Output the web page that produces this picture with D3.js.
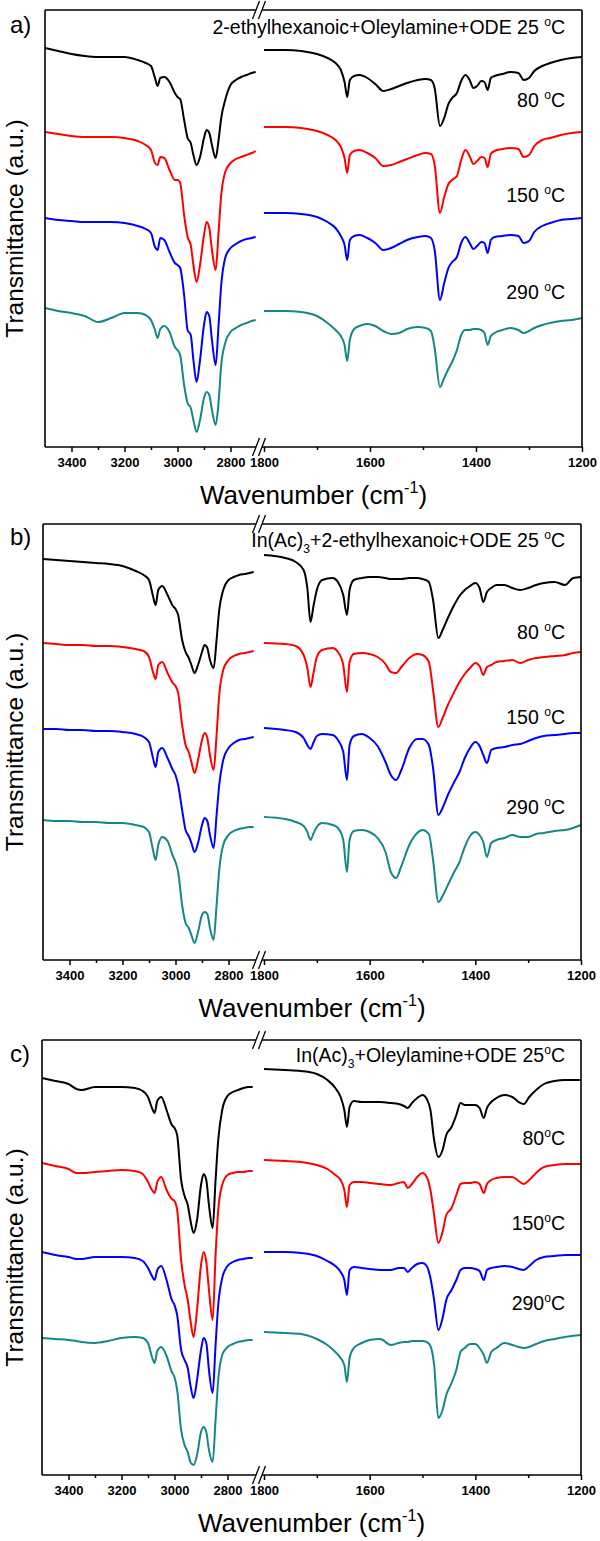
<!DOCTYPE html>
<html><head><meta charset="utf-8">
<script src="https://cdn.jsdelivr.net/npm/d3@7"></script>
<style>body{margin:0;background:#fff}svg text{font-family:"Liberation Sans",Arial,sans-serif;fill:#000}</style>
</head><body>
<svg id="chart" width="600" height="1541"></svg>
<script>
// ---------- tick labels ----------
const leftMajorTicks = [3400, 3200, 3000, 2800];
const leftMinorTicks = [3300, 3100, 2900];
const rightMajorTicks = [1800, 1600, 1400, 1200];
const rightMinorTicks = [1700, 1500, 1300];
const seriesNames = ["25 °C", "80 °C", "150 °C", "290 °C"];
const seriesColors = ["#000000", "#ff0000", "#0000ff", "#178686"];

// ---------- panel a ----------
const wnLeftAB = [3500,3450,3400,3350,3300,3250,3200,3150,3120,3100,3085,3075,3065,3050,3030,3010,3000,2990,2975,2962,2950,2940,2928,2915,2900,2890,2880,2870,2856,2845,2835,2820,2800,2780,2760,2740,2720,2705];
const wnRightA = [1800,1760,1730,1700,1680,1665,1655,1648,1643,1638,1630,1620,1605,1590,1575,1560,1545,1530,1510,1495,1485,1478,1468,1460,1452,1445,1436,1428,1420,1412,1405,1398,1390,1384,1378,1372,1365,1350,1335,1320,1310,1300,1290,1275,1260,1240,1220,1200];
const aLeft25  = [399,396,393,391,390,390,390,387,384,381,369,361,369,370,365,354,350,348,327,309,304,292,282,290,309,317,314,302,289,307,329,347,362,367,370,372,374,375];
const aLeft80  = [315,313,311,310,310,310,309,306,302,297,284,282,290,289,277,267,267,264,232,210,202,182,165,182,212,225,219,197,177,215,252,275,284,288,290,292,294,296];
const aLeft150 = [229,227,226,225,225,225,224,221,218,214,200,197,209,207,195,184,182,179,152,117,112,87,65,87,122,135,131,107,82,122,162,189,199,203,206,208,209,210];
const aLeft290 = [139,136,134,131,125,129,134,134,132,127,117,109,118,121,115,100,97,92,62,44,39,27,15,27,49,55,52,37,22,45,82,104,115,119,122,124,126,127];
const aRight25  = [397,397,396,393,389,384,377,365,350,367,371,372,369,363,356,358,361,364,367,368,367,359,321,329,343,349,354,366,372,367,359,361,366,365,357,369,371,373,375,374,367,369,376,381,384,387,389,390];
const aRight80  = [320,320,319,316,312,307,300,289,274,292,296,297,294,289,281,282,285,288,292,294,293,282,234,250,263,267,271,287,297,291,283,286,290,289,280,293,296,298,299,298,290,292,301,307,309,312,314,315];
const aRight150 = [234,234,233,230,225,219,211,202,187,207,211,212,209,204,197,199,203,207,210,211,209,197,147,164,179,185,190,204,210,204,198,201,205,204,194,207,210,211,212,211,204,206,215,221,224,227,228,229];
const aRight290 = [136,136,135,131,124,117,111,102,86,107,118,121,123,121,116,113,114,118,120,119,116,99,60,69,78,85,97,112,117,117,118,118,117,114,102,111,114,117,119,117,114,116,119,122,124,126,127,129];

// ---------- panel b ----------
const wnRightB = [1800,1760,1740,1725,1718,1712,1706,1700,1690,1670,1660,1650,1643,1638,1630,1615,1600,1585,1570,1560,1550,1540,1525,1510,1500,1488,1480,1470,1462,1452,1440,1430,1420,1410,1400,1392,1385,1378,1370,1360,1345,1330,1315,1300,1285,1270,1250,1230,1215,1200];
const bLeft25  = [401,400,399,398,397,396,394,389,385,380,364,355,370,374,365,354,351,345,320,308,302,295,287,295,308,315,312,300,292,320,350,370,380,383,385,386,387,388];
const bLeft80  = [317,316,315,315,314,314,313,311,309,303,288,281,295,298,287,277,274,267,235,215,208,198,187,200,220,227,222,205,190,225,265,290,300,304,306,307,308,309];
const bLeft150 = [231,231,230,230,229,229,228,226,223,218,202,193,208,212,202,190,185,175,150,130,124,117,108,117,135,142,139,125,112,145,175,200,212,217,220,221,222,223];
const bLeft290 = [140,139,139,138,138,137,137,135,133,128,110,100,115,123,119,104,98,88,55,37,32,25,17,28,45,48,46,32,20,55,90,115,125,129,131,132,133,133];
const bRight25  = [405,402,398,390,372,338,355,370,380,382,378,365,345,370,380,382,383,383,382,381,381,381,382,382,381,378,360,322,330,342,355,364,370,374,377,372,358,368,372,375,375,372,370,372,375,377,378,375,382,383];
const bRight80  = [317,316,314,305,292,273,288,303,310,312,308,295,268,298,306,307,306,303,296,288,287,293,302,306,305,298,270,233,242,255,268,278,286,292,297,294,285,293,295,298,299,300,297,300,302,303,304,305,307,308];
const bRight150 = [232,230,228,222,215,211,218,224,226,225,220,208,180,215,224,226,222,214,198,185,180,190,212,221,221,215,192,145,152,165,178,188,202,212,218,214,205,197,210,212,213,215,216,219,222,224,225,226,227,227];
const bRight290 = [143,141,138,134,128,120,127,133,137,135,132,120,88,120,129,130,128,122,108,88,82,94,115,127,130,126,100,58,64,75,88,98,113,124,128,125,118,103,117,120,122,125,123,123,126,127,129,130,132,135];

// ---------- panel c ----------
const wnLeftC = [3500,3450,3400,3370,3350,3300,3250,3200,3150,3120,3100,3085,3075,3065,3050,3030,3010,3000,2990,2975,2962,2950,2940,2928,2915,2900,2890,2880,2870,2856,2845,2835,2820,2800,2780,2760,2740,2720,2705];
const wnRightC = [1800,1760,1730,1700,1680,1665,1655,1648,1643,1638,1630,1615,1600,1580,1560,1545,1535,1528,1520,1510,1500,1492,1485,1478,1470,1462,1455,1445,1436,1428,1420,1410,1400,1392,1384,1378,1370,1360,1345,1330,1318,1308,1298,1285,1270,1250,1230,1200];
const cLeft25  = [397,394,391,386,385,388,388,388,387,384,378,367,362,374,378,365,350,347,340,295,279,270,255,242,255,290,301,295,270,247,295,335,365,379,383,385,387,388,388];
const cLeft80  = [312,309,306,302,302,303,304,305,304,301,293,285,282,293,298,285,276,274,265,215,190,175,155,138,165,210,223,213,185,155,220,265,290,300,302,303,303,304,304];
const cLeft150 = [223,220,218,216,216,218,218,218,217,214,207,199,195,205,209,195,175,170,160,125,115,107,90,77,95,125,137,132,105,82,130,170,197,209,213,215,216,217,217];
const cLeft290 = [137,136,135,134,133,132,134,137,138,137,132,118,112,124,128,119,103,98,85,45,30,23,13,10,20,43,48,43,25,13,55,95,120,128,131,133,134,135,135];
const cRight25  = [406,405,404,401,395,387,378,365,348,368,374,373,373,373,372,371,369,367,372,377,380,376,365,335,318,325,340,348,360,372,370,370,370,367,357,367,373,377,380,378,373,371,378,385,391,394,395,395];
const cRight80  = [315,314,313,310,306,300,295,285,268,290,293,293,292,291,290,292,293,287,291,298,302,298,285,260,232,243,260,267,280,291,292,292,293,291,282,291,295,297,298,298,294,291,295,302,308,310,311,311];
const cRight150 = [223,223,222,219,214,209,203,195,180,205,208,207,206,205,205,207,207,203,207,211,212,209,197,175,145,157,175,185,195,205,207,207,206,204,195,205,207,208,209,208,206,205,209,215,218,219,220,220];
const cRight290 = [143,142,141,136,130,123,117,110,93,117,127,132,135,136,130,132,133,133,134,134,134,133,129,110,57,65,80,92,105,123,127,131,131,127,120,112,123,127,132,130,128,127,128,131,134,136,138,140];

// ---------- panel text ----------
const sup = t => ({t, sup:true});
const sub = t => ({t, sub:true});
const titleA = [{t:"2-ethylhexanoic+Oleylamine+ODE 25 "}, sup("o"), {t:"C"}];
const titleB = [{t:"In(Ac)"}, sub("3"), {t:"+2-ethylhexanoic+ODE 25 "}, sup("o"), {t:"C"}];
const titleC = [{t:"In(Ac)"}, sub("3"), {t:"+Oleylamine+ODE 25"}, sup("o"), {t:"C"}];
const tempsSpaced = ["80 ", "150 ", "290 "];
const tempsTight = ["80", "150", "290"];

const panels = [
  {label:"a)", L:45, R:582, top:10, bottom:447, title:titleA, titleY:34, labelY:33,
   temps:tempsSpaced, tempY:[107,202,299], wnL:wnLeftAB, wnR:wnRightA,
   left:[aLeft25,aLeft80,aLeft150,aLeft290], right:[aRight25,aRight80,aRight150,aRight290]},
  {label:"b)", L:43, R:581, top:524, bottom:960, title:titleB, titleY:547, labelY:545,
   temps:tempsSpaced, tempY:[639,724,814], wnL:wnLeftAB, wnR:wnRightB,
   left:[bLeft25,bLeft80,bLeft150,bLeft290], right:[bRight25,bRight80,bRight150,bRight290]},
  {label:"c)", L:42, R:581, top:1040, bottom:1475, title:titleC, titleY:1062, labelY:1062,
   temps:tempsTight, tempY:[1145,1230,1310], wnL:wnLeftC, wnR:wnRightC,
   left:[cLeft25,cLeft80,cLeft150,cLeft290], right:[cRight25,cRight80,cRight150,cRight290]}
];

const svg = d3.select("#chart");
svg.append("rect").attr("width",600).attr("height",1541).attr("fill","#fff");

function richText(g, x, y, parts, size, anchor) {
  const t = g.append("text").attr("x", x).attr("y", y).attr("font-size", size).attr("text-anchor", anchor);
  let shift = 0;
  parts.forEach(p => {
    const ts = t.append("tspan").text(p.t);
    const target = p.sup ? -size * 0.42 : p.sub ? size * 0.3 : 0;
    if (target !== shift) { ts.attr("dy", target - shift); shift = target; }
    if (p.sup || p.sub) ts.attr("font-size", size * 0.62);
  });
  return t;
}

const RIGHT_START = 264, SLASH1 = 256, SLASH2 = 262;

panels.forEach(P => {
  const g = svg.append("g");
  const xL = d3.scaleLinear().domain([3500, 2700]).range([P.L, P.L + 212]);
  const xR = d3.scaleLinear().domain([1800, 1200]).range([RIGHT_START, P.R]);
  const H = P.bottom - P.top;
  const y = d3.scaleLinear().domain([0, H]).range([P.bottom, P.top]);

  // curves
  const line = x => d3.line().x(d => x(d.w)).y(d => y(d.v)).curve(d3.curveMonotoneX);
  [[P.wnL, P.left, xL], [P.wnR, P.right, xR]].forEach(([wn, sets, x]) => {
    sets.forEach((vals, i) => {
      const data = wn.map((w, k) => ({w, v: vals[k]}));
      g.append("path").datum(data).attr("d", line(x))
        .attr("fill", "none").attr("stroke", seriesColors[i])
        .attr("stroke-width", 2).attr("stroke-linejoin", "round");
    });
  });

  // frame
  const ax = g.append("g").attr("stroke", "#000").attr("stroke-width", 1.6).attr("fill", "none");
  [P.top, P.bottom].forEach(yy => {
    ax.append("line").attr("x1", P.L).attr("x2", SLASH1).attr("y1", yy).attr("y2", yy);
    ax.append("line").attr("x1", SLASH2).attr("x2", P.R).attr("y1", yy).attr("y2", yy);
    [SLASH1, SLASH2].forEach(sx => {
      ax.append("line").attr("x1", sx - 3.5).attr("y1", yy + 9).attr("x2", sx + 3.5).attr("y2", yy - 9)
        .attr("stroke-width", 1.3);
    });
  });
  ax.append("line").attr("x1", P.L).attr("x2", P.L).attr("y1", P.top).attr("y2", P.bottom);
  ax.append("line").attr("x1", P.R).attr("x2", P.R).attr("y1", P.top).attr("y2", P.bottom);

  // bottom axes with d3 axis generators
  const mkAxis = (scale, major, minor) => {
    const gMaj = g.append("g").attr("transform", `translate(0,${P.bottom})`)
      .call(d3.axisBottom(scale).tickValues(major).tickSize(5).tickPadding(6).tickFormat(d3.format("d")));
    gMaj.select(".domain").remove();
    gMaj.selectAll("line").attr("stroke-width", 1.5);
    gMaj.selectAll("text").attr("font-size", 13).attr("font-weight", "bold")
      .attr("font-family", '"Liberation Sans", Arial, sans-serif');
    const gMin = g.append("g").attr("transform", `translate(0,${P.bottom})`)
      .call(d3.axisBottom(scale).tickValues(minor).tickSize(3).tickFormat(""));
    gMin.select(".domain").remove();
    gMin.selectAll("line").attr("stroke-width", 1.5);
  };
  mkAxis(xL, leftMajorTicks, leftMinorTicks);
  mkAxis(xR, rightMajorTicks, rightMinorTicks);

  // axis titles
  richText(g, (P.L + P.R) / 2, P.bottom + 57, [{t:"Wavenumber (cm"}, sup("-1"), {t:")"}], 26, "middle");
  g.append("text").attr("transform", `translate(23,${(P.top + P.bottom) / 2}) rotate(-90)`)
    .attr("text-anchor", "middle").attr("font-size", 24.5).text("Transmittance (a.u.)");
  g.append("text").attr("x", 10).attr("y", P.labelY).attr("font-size", 24).text(P.label);

  // annotations
  richText(g, 565, P.titleY, P.title, 19.5, "end");
  P.temps.forEach((tx, i) => richText(g, 565, P.tempY[i], [{t:tx}, sup("o"), {t:"C"}], 19.5, "end"));
});
</script>
</body></html>
